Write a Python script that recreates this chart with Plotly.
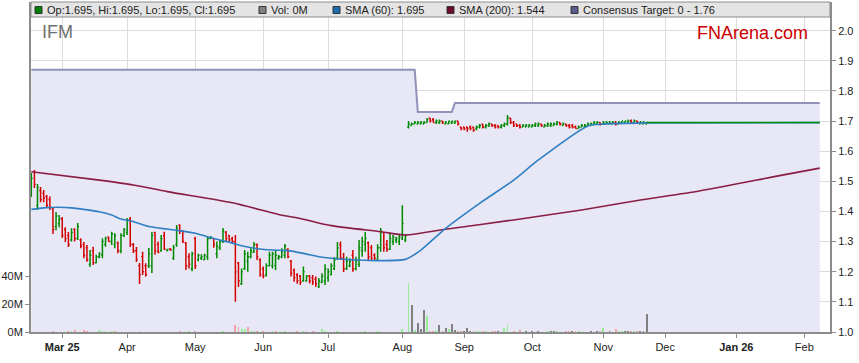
import plotly.graph_objects as go
import pandas as pd

# ---------------- data ----------------
trade_dates = [d.strftime("%Y-%m-%d") for d in pd.bdate_range("2025-02-17", "2025-11-21")]
axis_dates = [d.strftime("%Y-%m-%d") for d in pd.bdate_range("2025-02-17", "2026-02-13")]

open_ = [
    1.46, 1.53, 1.42, 1.47, 1.46, 1.45, 1.44, 1.41, 1.35, 1.36,
    1.375, 1.34, 1.32, 1.305, 1.34, 1.31, 1.305, 1.29, 1.28, 1.225,
    1.27, 1.23, 1.25, 1.255, 1.29, 1.315, 1.30, 1.29, 1.295, 1.27,
    1.32, 1.33, 1.375, 1.29, 1.27, 1.22, 1.25, 1.22, 1.22, 1.22,
    1.33, 1.29, 1.27, 1.32, 1.27, 1.276, 1.245, 1.29, 1.355, 1.335,
    1.295, 1.25, 1.21, 1.31, 1.24, 1.245, 1.24, 1.25, 1.31, 1.31,
    1.26, 1.28, 1.30, 1.33, 1.32, 1.31, 1.30, 1.23, 1.16, 1.21,
    1.235, 1.25, 1.265, 1.29, 1.24, 1.21, 1.19, 1.22, 1.22, 1.22,
    1.245, 1.25, 1.255, 1.275, 1.235, 1.205, 1.19, 1.185, 1.17, 1.17,
    1.185, 1.18, 1.175, 1.15, 1.165, 1.17, 1.18, 1.19, 1.21, 1.245,
    1.29, 1.245, 1.21, 1.22, 1.255, 1.21, 1.225, 1.27, 1.29, 1.295,
    1.28, 1.255, 1.24, 1.28, 1.33, 1.29, 1.275, 1.30, 1.305, 1.30,
    1.31, 1.305, 1.68, 1.685, 1.69, 1.69, 1.69, 1.69, 1.695, 1.71,
    1.705, 1.695, 1.695, 1.70, 1.69, 1.69, 1.695, 1.695, 1.70, 1.68,
    1.68, 1.68, 1.68, 1.68, 1.675, 1.68, 1.69, 1.68, 1.685, 1.69,
    1.685, 1.685, 1.68, 1.685, 1.69, 1.71, 1.695, 1.69, 1.685, 1.68,
    1.68, 1.68, 1.68, 1.685, 1.685, 1.69, 1.68, 1.685, 1.685, 1.685,
    1.69, 1.695, 1.685, 1.69, 1.685, 1.685, 1.68, 1.675, 1.68, 1.68,
    1.685, 1.685, 1.69, 1.69, 1.695, 1.69, 1.69, 1.69, 1.69, 1.695,
    1.69, 1.695, 1.695, 1.695, 1.70, 1.695, 1.70, 1.69, 1.69, 1.69,
]
high = [
    1.528, 1.538, 1.491, 1.481, 1.471, 1.455, 1.45, 1.415, 1.398, 1.388,
    1.382, 1.348, 1.332, 1.344, 1.344, 1.362, 1.311, 1.299, 1.289, 1.272,
    1.283, 1.256, 1.265, 1.311, 1.316, 1.316, 1.333, 1.328, 1.30, 1.328,
    1.345, 1.378, 1.382, 1.295, 1.282, 1.229, 1.266, 1.228, 1.279, 1.332,
    1.332, 1.30, 1.322, 1.333, 1.276, 1.278, 1.289, 1.355, 1.358, 1.338,
    1.299, 1.261, 1.266, 1.316, 1.26, 1.258, 1.26, 1.315, 1.318, 1.31,
    1.30, 1.305, 1.345, 1.335, 1.322, 1.316, 1.322, 1.232, 1.211, 1.272,
    1.266, 1.278, 1.299, 1.294, 1.245, 1.217, 1.228, 1.266, 1.266, 1.272,
    1.256, 1.278, 1.292, 1.278, 1.239, 1.211, 1.195, 1.189, 1.217, 1.189,
    1.189, 1.189, 1.184, 1.179, 1.195, 1.225, 1.211, 1.228, 1.249, 1.299,
    1.30, 1.262, 1.25, 1.245, 1.272, 1.25, 1.305, 1.316, 1.332, 1.30,
    1.289, 1.261, 1.291, 1.345, 1.333, 1.305, 1.328, 1.322, 1.316, 1.322,
    1.421, 1.325, 1.70, 1.695, 1.70, 1.70, 1.70, 1.70, 1.71, 1.71,
    1.71, 1.705, 1.705, 1.70, 1.70, 1.70, 1.70, 1.70, 1.70, 1.68,
    1.68, 1.68, 1.685, 1.68, 1.685, 1.69, 1.69, 1.69, 1.695, 1.69,
    1.69, 1.685, 1.69, 1.695, 1.72, 1.71, 1.70, 1.69, 1.69, 1.69,
    1.69, 1.69, 1.69, 1.695, 1.695, 1.69, 1.69, 1.695, 1.695, 1.695,
    1.70, 1.695, 1.695, 1.69, 1.69, 1.69, 1.685, 1.685, 1.69, 1.69,
    1.695, 1.695, 1.70, 1.70, 1.695, 1.70, 1.70, 1.70, 1.70, 1.70,
    1.70, 1.70, 1.70, 1.705, 1.705, 1.705, 1.70, 1.70, 1.70, 1.695,
]
low = [
    1.448, 1.478, 1.405, 1.431, 1.431, 1.412, 1.405, 1.325, 1.338, 1.348,
    1.312, 1.299, 1.282, 1.30, 1.30, 1.305, 1.278, 1.245, 1.233, 1.216,
    1.222, 1.228, 1.245, 1.245, 1.283, 1.30, 1.289, 1.278, 1.261, 1.261,
    1.315, 1.322, 1.282, 1.262, 1.232, 1.159, 1.189, 1.184, 1.212, 1.196,
    1.256, 1.261, 1.266, 1.272, 1.268, 1.27, 1.239, 1.283, 1.325, 1.295,
    1.206, 1.211, 1.202, 1.209, 1.235, 1.239, 1.239, 1.239, 1.308, 1.28,
    1.245, 1.272, 1.295, 1.30, 1.30, 1.295, 1.10, 1.149, 1.156, 1.206,
    1.20, 1.245, 1.262, 1.239, 1.183, 1.178, 1.184, 1.217, 1.211, 1.206,
    1.24, 1.245, 1.245, 1.245, 1.184, 1.167, 1.16, 1.156, 1.167, 1.167,
    1.161, 1.156, 1.15, 1.146, 1.162, 1.156, 1.167, 1.189, 1.206, 1.239,
    1.239, 1.199, 1.206, 1.215, 1.20, 1.205, 1.216, 1.25, 1.266, 1.239,
    1.239, 1.239, 1.238, 1.266, 1.266, 1.266, 1.272, 1.289, 1.295, 1.289,
    1.305, 1.299, 1.675, 1.685, 1.69, 1.69, 1.69, 1.69, 1.695, 1.695,
    1.695, 1.69, 1.69, 1.69, 1.69, 1.69, 1.69, 1.69, 1.685, 1.67,
    1.67, 1.665, 1.67, 1.665, 1.67, 1.675, 1.675, 1.675, 1.68, 1.68,
    1.675, 1.675, 1.675, 1.68, 1.685, 1.69, 1.68, 1.68, 1.675, 1.68,
    1.68, 1.68, 1.68, 1.68, 1.68, 1.68, 1.68, 1.68, 1.68, 1.685,
    1.685, 1.685, 1.685, 1.68, 1.675, 1.675, 1.675, 1.675, 1.68, 1.68,
    1.685, 1.685, 1.69, 1.69, 1.685, 1.69, 1.69, 1.69, 1.69, 1.685,
    1.69, 1.695, 1.695, 1.695, 1.69, 1.695, 1.69, 1.69, 1.69, 1.69,
]
close = [
    1.51, 1.49, 1.48, 1.44, 1.445, 1.42, 1.415, 1.34, 1.385, 1.375,
    1.32, 1.31, 1.29, 1.33, 1.31, 1.35, 1.285, 1.255, 1.24, 1.255,
    1.23, 1.25, 1.26, 1.30, 1.31, 1.30, 1.325, 1.32, 1.27, 1.32,
    1.34, 1.37, 1.29, 1.27, 1.24, 1.19, 1.20, 1.19, 1.26, 1.32,
    1.27, 1.265, 1.31, 1.275, 1.274, 1.272, 1.28, 1.345, 1.335, 1.30,
    1.22, 1.225, 1.26, 1.22, 1.255, 1.25, 1.255, 1.31, 1.315, 1.29,
    1.285, 1.30, 1.335, 1.31, 1.305, 1.30, 1.20, 1.17, 1.20, 1.26,
    1.25, 1.27, 1.29, 1.25, 1.19, 1.185, 1.22, 1.255, 1.26, 1.255,
    1.25, 1.265, 1.285, 1.25, 1.195, 1.18, 1.17, 1.165, 1.20, 1.185,
    1.17, 1.165, 1.16, 1.17, 1.185, 1.21, 1.20, 1.22, 1.24, 1.28,
    1.245, 1.21, 1.235, 1.235, 1.21, 1.235, 1.28, 1.30, 1.31, 1.25,
    1.245, 1.245, 1.28, 1.335, 1.28, 1.275, 1.31, 1.315, 1.31, 1.315,
    1.36, 1.32, 1.69, 1.69, 1.695, 1.695, 1.695, 1.695, 1.705, 1.70,
    1.695, 1.70, 1.70, 1.695, 1.695, 1.70, 1.70, 1.70, 1.69, 1.675,
    1.675, 1.675, 1.675, 1.67, 1.68, 1.685, 1.68, 1.685, 1.69, 1.685,
    1.68, 1.68, 1.685, 1.69, 1.71, 1.695, 1.685, 1.685, 1.68, 1.685,
    1.685, 1.685, 1.685, 1.69, 1.69, 1.685, 1.685, 1.69, 1.69, 1.69,
    1.695, 1.69, 1.69, 1.685, 1.68, 1.68, 1.675, 1.68, 1.685, 1.685,
    1.69, 1.69, 1.695, 1.695, 1.69, 1.695, 1.695, 1.695, 1.695, 1.69,
    1.695, 1.70, 1.70, 1.70, 1.695, 1.70, 1.695, 1.695, 1.695, 1.695,
]
volume_m = [
    0.15, 0.15, 0.15, 0.15, 0.15, 0.15, 0.15, 0.8, 0.15, 0.15,
    0.15, 0.15, 0.8, 0.8, 1.4, 0.15, 0.15, 1.4, 0.7, 0.15,
    0.15, 0.15, 1.4, 0.7, 0.7, 0.15, 0.7, 0.7, 0.15, 0.15,
    0.15, 0.15, 0.15, 0.15, 0.15, 0.7, 0.15, 0.15, 0.15, 0.15,
    0.15, 0.15, 0.15, 0.15, 0.15, 0.15, 0.15, 0.15, 0.7, 0.15,
    0.15, 0.7, 0.15, 0.7, 0.15, 0.15, 0.15, 0.15, 0.15, 0.15,
    0.15, 0.15, 0.7, 0.15, 0.15, 0.15, 5.0, 3.8, 1.9, 2.4,
    3.3, 1.0, 0.7, 0.5, 0.15, 0.7, 0.15, 0.15, 0.7, 0.7,
    0.15, 0.15, 0.7, 0.15, 0.15, 0.15, 0.7, 0.15, 0.7, 0.7,
    0.15, 0.7, 0.15, 0.15, 2.1, 0.7, 0.15, 0.15, 0.15, 0.7,
    0.15, 0.15, 0.15, 0.15, 0.15, 0.15, 0.15, 0.15, 0.7, 0.15,
    0.15, 0.15, 0.7, 0.15, 0.15, 0.15, 0.15, 0.15, 0.15, 0.15,
    2.1, 0.15, 34.8, 19.3, 1.4, 6.2, 2.1, 15.7, 11.4, 0.5,
    0.6, 1.4, 5.0, 0.7, 2.9, 2.1, 5.7, 1.4, 0.5, 0.5,
    0.8, 2.8, 1.0, 0.5, 0.5, 0.5, 0.5, 0.5, 0.3, 0.5,
    0.5, 0.8, 0.3, 2.9, 5.0, 0.3, 0.6, 0.3, 1.4, 0.3,
    0.5, 0.3, 0.8, 0.3, 0.5, 0.3, 0.3, 0.8, 0.5, 0.5,
    0.5, 0.3, 0.3, 0.5, 0.5, 0.8, 0.5, 0.5, 0.3, 0.3,
    0.3, 0.8, 0.3, 0.5, 0.5, 2.9, 0.3, 0.6, 0.3, 2.1,
    0.5, 0.5, 0.6, 0.8, 0.5, 0.9, 0.5, 0.5, 0.5, 12.9,
]

# projected close after last trade
proj_dates = ["2025-11-21", "2026-02-09"]
proj_close = [1.695, 1.695]

sma60_dates = ["2025-02-17", "2025-02-21", "2025-02-28", "2025-03-06", "2025-03-12",
               "2025-03-19", "2025-03-25", "2025-03-28", "2025-04-02", "2025-04-10",
               "2025-04-16", "2025-04-24", "2025-05-01", "2025-05-07", "2025-05-13",
               "2025-05-19", "2025-05-22", "2025-05-28", "2025-06-05", "2025-06-12",
               "2025-06-19", "2025-06-26", "2025-07-02", "2025-07-15", "2025-07-23",
               "2025-08-05", "2025-08-12", "2025-08-22", "2025-09-08", "2025-09-23",
               "2025-10-03", "2025-10-27", "2025-11-03", "2025-11-21", "2026-02-09"]
sma60_vals = [1.407, 1.412, 1.414, 1.412, 1.407,
              1.399, 1.388, 1.375, 1.369, 1.350,
              1.344, 1.336, 1.328, 1.316, 1.305,
              1.295, 1.286, 1.278, 1.272, 1.270,
              1.261, 1.250, 1.245, 1.239, 1.237,
              1.241, 1.272, 1.344, 1.427, 1.504,
              1.571, 1.684, 1.690, 1.694, 1.695]

sma200_dates = ["2025-02-17", "2025-03-19", "2025-04-03", "2025-04-18", "2025-05-19",
                "2025-06-09", "2025-06-18", "2025-07-02", "2025-07-24", "2025-08-05",
                "2025-08-22", "2025-09-23", "2025-10-23", "2025-11-19", "2025-12-16",
                "2026-01-21", "2026-02-09"]
sma200_vals = [1.532, 1.504, 1.488, 1.466, 1.429,
               1.390, 1.377, 1.353, 1.333, 1.322,
               1.341, 1.372, 1.405, 1.438, 1.468,
               1.519, 1.544]

target_dates = ["2025-02-17", "2025-08-08", "2025-08-11", "2025-08-26", "2025-08-27", "2026-02-09"]
target_vals = [1.87, 1.87, 1.73, 1.73, 1.76, 1.76]

month_ticks = ["2025-03-03", "2025-04-01", "2025-05-01", "2025-06-02", "2025-07-01", "2025-08-04",
               "2025-09-01", "2025-10-01", "2025-11-03", "2025-12-01", "2026-01-01", "2026-02-02"]
month_labels = ["<b>Mar 25</b>", "Apr", "May", "Jun", "Jul", "Aug", "Sep", "Oct", "Nov", "Dec",
                "<b>Jan 26</b>", "Feb"]

price_ticks = [1.0, 1.1, 1.2, 1.3, 1.4, 1.5, 1.6, 1.7, 1.8, 1.9, 2.0]
vol_ticks = [0, 20, 40]
vol_tick_labels = ["0M", "20M", "40M"]

# ---------------- styling ----------------
UP = "#008a00"
DOWN = "#d40000"
UP_VOL = "#96ee96"
DOWN_VOL = "#f4a3a3"
FLAT_VOL = "#808080"

vol_colors = []
prev = None
for c in close:
    if prev is None or c > prev:
        vol_colors.append(UP_VOL)
    elif c < prev:
        vol_colors.append(DOWN_VOL)
    else:
        vol_colors.append(FLAT_VOL)
    prev = c

W, H = 859, 363
L, R, T, B = 31, 29, 2, 31
PW, PH = W - L - R, H - T - B


def px_x(px):
    return (px - L) / PW


def px_y(py):
    return (T + PH - py) / PH


fig = go.Figure()

# base price subplot: consensus-target area (drawn lowest)
fig.add_trace(go.Scatter(
    x=target_dates, y=target_vals, mode="lines",
    line=dict(color="#9191b9", width=2),
    fill="tozeroy", fillcolor="#e7e7f6", hoverinfo="skip", yaxis="y"))

# volume (overlay)
fig.add_trace(go.Bar(
    x=trade_dates, y=volume_m, marker=dict(color=vol_colors, line=dict(width=0)),
    width=0.62, hoverinfo="skip", yaxis="y2"))

# price overlay: OHLC, SMAs, projection
fig.add_trace(go.Ohlc(
    x=trade_dates, open=open_, high=high, low=low, close=close,
    increasing=dict(line=dict(color=UP, width=1.5)),
    decreasing=dict(line=dict(color=DOWN, width=1.5)),
    tickwidth=0.42, hoverinfo="skip", yaxis="y3"))

fig.add_trace(go.Scatter(
    x=sma200_dates, y=sma200_vals, mode="lines",
    line=dict(color="#8a1d45", width=1.6, shape="spline", smoothing=0.7),
    hoverinfo="skip", yaxis="y3"))

fig.add_trace(go.Scatter(
    x=sma60_dates, y=sma60_vals, mode="lines",
    line=dict(color="#2f80c3", width=1.6, shape="spline", smoothing=0.6),
    hoverinfo="skip", yaxis="y3"))

fig.add_trace(go.Scatter(
    x=proj_dates, y=proj_close, mode="lines",
    line=dict(color=UP, width=1.5), hoverinfo="skip", yaxis="y3"))

price_top = 1.0 + PH / 301.3
vol_top = PH / 28.0 * 20.0
x_end = (830 - 31.3) / 3.092

fig.update_layout(
    width=W, height=H,
    margin=dict(l=L, r=R, t=T, b=B),
    paper_bgcolor="white", plot_bgcolor="white",
    showlegend=False,
    font=dict(family="Arial, Liberation Sans, sans-serif", size=11, color="#222222"),
    bargap=0,
    xaxis=dict(
        type="category",
        categoryorder="array", categoryarray=axis_dates,
        range=[-0.1, x_end],
        rangeslider=dict(visible=False),
        tickvals=month_ticks, ticktext=month_labels,
        showgrid=True, gridcolor="#dcdcdc", gridwidth=1,
        showline=True, linecolor="#8c8c8c", linewidth=2,
        ticks="outside", ticklen=4, tickcolor="#8c8c8c",
        tickfont=dict(size=11, color="#222222"),
        zeroline=False, fixedrange=True,
    ),
    yaxis=dict(
        side="right", range=[1.0, price_top],
        tickvals=price_ticks, tickformat=".1f",
        showgrid=True, gridcolor="#dcdcdc", gridwidth=1,
        showline=True, linecolor="#8c8c8c", linewidth=2,
        ticks="outside", ticklen=4, tickcolor="#8c8c8c",
        tickfont=dict(size=11, color="#222222"),
        zeroline=False,
    ),
    yaxis2=dict(
        overlaying="y", side="left", range=[0, vol_top],
        tickvals=vol_ticks, ticktext=vol_tick_labels,
        showgrid=False, zeroline=False,
        showline=True, linecolor="#8c8c8c", linewidth=2,
        ticks="outside", ticklen=4, tickcolor="#8c8c8c",
        tickfont=dict(size=11, color="#222222"),
    ),
    yaxis3=dict(
        overlaying="y", side="right", range=[1.0, price_top],
        showgrid=False, zeroline=False, showline=False,
        showticklabels=False, ticks="",
    ),
)

shapes = []
annotations = []

# legend band
shapes.append(dict(type="rect", xref="paper", yref="paper",
                   x0=0, x1=1, y0=px_y(17), y1=1,
                   fillcolor="#e4e4e4", line=dict(color="#8c8c8c", width=1), layer="above"))

legend_items = [
    ("Op:1.695, Hi:1.695, Lo:1.695, Cl:1.695", "#008000", 35),
    ("Vol: 0M", "#808080", 259),
    ("SMA (60): 1.695", "#1d6cb0", 333),
    ("SMA (200): 1.544", "#6e0b2e", 447),
    ("Consensus Target: 0 - 1.76", "#5c5c8c", 571),
]
for text, col, sx in legend_items:
    shapes.append(dict(type="rect", xref="paper", yref="paper",
                       x0=px_x(sx), x1=px_x(sx + 7), y0=px_y(13.5), y1=px_y(6.5),
                       fillcolor=col, line=dict(color="#333333", width=1), layer="above"))
    annotations.append(dict(text=text, xref="paper", yref="paper",
                            x=px_x(sx + 9.5), y=px_y(10), xanchor="left", yanchor="middle",
                            showarrow=False, font=dict(size=11, color="#222222")))

annotations.append(dict(text="IFM", xref="paper", yref="paper",
                        x=px_x(40), y=px_y(32), xanchor="left", yanchor="middle",
                        showarrow=False, font=dict(size=18, color="#707070")))
annotations.append(dict(text="FNArena.com", xref="paper", yref="paper",
                        x=px_x(810), y=px_y(33), xanchor="right", yanchor="middle",
                        showarrow=False, font=dict(size=18, color="#cc0000")))

fig.update_layout(shapes=shapes, annotations=annotations)

fig.write_html("out.html", config={"displayModeBar": False, "staticPlot": True},
               post_script="document.body.style.margin='0';document.body.style.overflow='hidden';")
